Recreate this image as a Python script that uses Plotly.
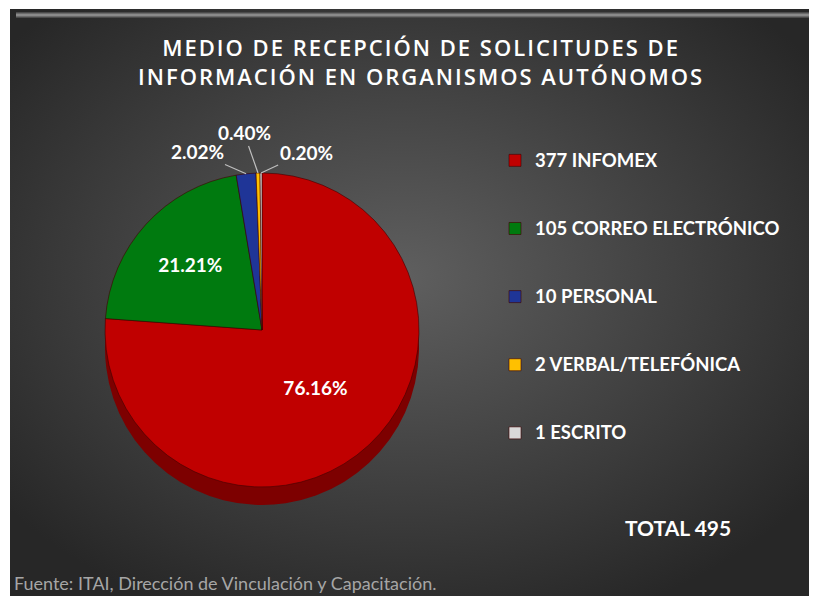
import base64
import math
import plotly.graph_objects as go

# data
medios = ["INFOMEX", "CORREO ELECTRÓNICO", "PERSONAL", "VERBAL/TELEFÓNICA", "ESCRITO"]
solicitudes = [377, 105, 10, 2, 1]
colores = ["#c00000", "#007a0f", "#1f3597", "#ffc000", "#d9d9d9"]
colores_lado = ["#7d0000", "#004f0a", "#142363", "#a67d00", "#8c8c8c"]

total = sum(solicitudes)
porcentajes = [v / total for v in solicitudes]

W, H = 817, 596
OFF = 8  # the page body adds an 8px margin, so place things in screen pixels


def px(x):
    return (x - OFF) / W


def py(y):
    return 1 - (y - OFF) / H


# pie geometry (screen pixels)
CX, CY, R = 262, 330, 157
DEPTH = 18

# radial grey background like the Excel chart area
svg = f"""<svg xmlns='http://www.w3.org/2000/svg' width='{W}' height='{H}'>
<defs><radialGradient id='g' cx='48%' cy='45%' r='62%'>
<stop offset='0%' stop-color='#5f5f5f'/>
<stop offset='100%' stop-color='#272727'/>
</radialGradient>
<linearGradient id='b' x1='0' y1='0' x2='0' y2='1'>
<stop offset='0' stop-color='#3a3a3a'/>
<stop offset='0.5' stop-color='#9a9a9a'/>
<stop offset='1' stop-color='#3a3a3a'/>
</linearGradient></defs>
<rect width='100%' height='100%' fill='url(#g)'/>
<rect x='6' y='3' width='100%' height='6' fill='url(#b)'/>
</svg>"""
fondo = "data:image/svg+xml;base64," + base64.b64encode(svg.encode()).decode()

# large slices get inside labels, tiny ones get leader-line annotations
textos = [f"{p:.2%}" if p > 0.1 else "" for p in porcentajes]
leyenda = [f"<span style='font-size:18.5px'>{n} {m}</span><br> <br> "
           for n, m in zip(solicitudes, medios)]

fig = go.Figure()

# darker copy below the pie to suggest the side of the 3-D disc
fig.add_trace(go.Pie(
    labels=leyenda,
    values=solicitudes,
    sort=False,
    direction="clockwise",
    rotation=0,
    marker=dict(colors=colores_lado, line=dict(width=0)),
    textinfo="none",
    hoverinfo="skip",
    showlegend=False,
    domain=dict(x=[px(CX - R), px(CX + R)], y=[py(CY + DEPTH + R), py(CY + DEPTH - R)]),
))

fig.add_trace(go.Pie(
    labels=leyenda,
    values=solicitudes,
    customdata=[f"{n} {m}" for n, m in zip(solicitudes, medios)],
    sort=False,
    direction="clockwise",
    rotation=0,
    marker=dict(colors=colores, line=dict(color="#400000", width=0.6)),
    text=textos,
    textinfo="text",
    textposition="inside",
    textfont=dict(family="Lato", size=19, color="white", weight="bold"),
    insidetextorientation="horizontal",
    domain=dict(x=[px(CX - R), px(CX + R)], y=[py(CY + R), py(CY - R)]),
    hovertemplate="%{customdata}<br>%{percent:.2%}<extra></extra>",
))

# leader-line labels for the small slices
posiciones_etiqueta = {2: (197, 152), 3: (244, 133), 4: (306, 152)}
anotaciones = []
acumulado = 0
for i, p in enumerate(porcentajes):
    medio = acumulado + p / 2
    acumulado += p
    if i not in posiciones_etiqueta:
        continue
    ang = 2 * math.pi * medio
    tx = CX + R * math.sin(ang)
    ty = CY - R * math.cos(ang)
    lx, ly = posiciones_etiqueta[i]
    anotaciones.append(dict(
        x=px(tx), y=py(ty), xref="paper", yref="paper",
        text=f"{p:.2%}", showarrow=True, arrowhead=0, arrowwidth=1.2,
        arrowcolor="#bfbfbf", ax=lx - tx, ay=ly - ty, standoff=0,
        font=dict(family="Lato", size=19, color="white", weight="bold"),
    ))

titulo = ["MEDIO DE RECEPCIÓN DE SOLICITUDES DE", "INFORMACIÓN EN ORGANISMOS AUTÓNOMOS"]

anotaciones += [
    dict(
        text="<br>".join(f"<span style='letter-spacing:2px'>{t}</span>" for t in titulo),
        x=px(421), y=py(61), xref="paper", yref="paper", xanchor="center", yanchor="middle",
        showarrow=False, font=dict(family="Open Sans", size=22, color="white", weight=600),
    ),
    dict(
        text=f"TOTAL {total}", x=px(678), y=py(527), xref="paper", yref="paper",
        xanchor="center", yanchor="middle", showarrow=False,
        font=dict(family="Lato", size=21, color="white", weight="bold"),
    ),
    dict(
        text="Fuente: ITAI, Dirección de Vinculación y Capacitación.",
        x=px(12), y=py(583), xref="paper", yref="paper", xanchor="left", yanchor="middle",
        showarrow=False, font=dict(family="Lato", size=18, color="#a6a6a6"),
    ),
]

fig.update_layout(
    width=W,
    height=H,
    margin=dict(l=0, r=0, t=0, b=0),
    paper_bgcolor="white",
    plot_bgcolor="white",
    showlegend=True,
    legend=dict(
        x=px(495), y=py(143), xanchor="left", yanchor="top",
        font=dict(family="Lato", size=16.7, color="white", weight="bold"),
        valign="top",
        bgcolor="rgba(0,0,0,0)",
    ),
    images=[dict(
        source=fondo, xref="paper", yref="paper",
        x=px(10), y=py(9), sizex=1, sizey=1,
        xanchor="left", yanchor="top", sizing="stretch", layer="below",
    )],
    annotations=anotaciones,
)

fig.write_html("out.html")
